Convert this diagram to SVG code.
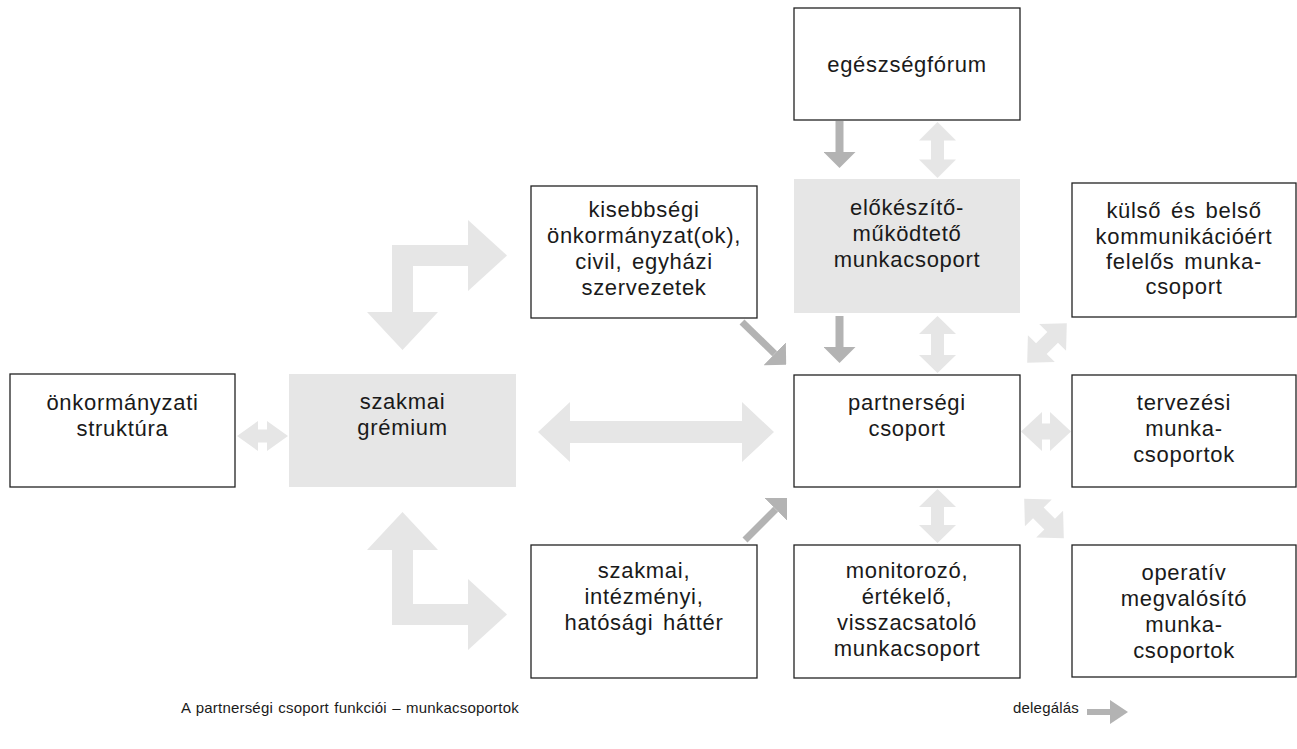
<svg xmlns="http://www.w3.org/2000/svg" width="1297" height="749" viewBox="0 0 1297 749">
<style>
.box{fill:#ffffff;stroke:#222222;stroke-width:1.3}
.gbox{fill:#e6e6e6;stroke:none}
.t{font-family:"Liberation Sans",Arial,sans-serif;font-size:22px;fill:#1a1a1a;text-anchor:middle;letter-spacing:0.7px;word-spacing:3px}
.lg{font-family:"Liberation Sans",Arial,sans-serif;font-size:15px;fill:#1a1a1a;letter-spacing:0.2px;word-spacing:1px}
.la{fill:#e6e6e6;stroke:none}
.da{fill:none;stroke:#b3b3b3;stroke-width:8}
.dh{fill:#b3b3b3;stroke:none}
</style>
<defs>
<marker id="dhead" markerUnits="userSpaceOnUse" viewBox="0 0 16 32" markerWidth="16" markerHeight="32" refX="0" refY="16" orient="auto">
<path d="M0,0 L16,16 L0,32 Z" fill="#b3b3b3"/>
</marker>
<path id="dbl" d="M-28,0 L-8,-19 L-8,-7.5 L8,-7.5 L8,-19 L28,0 L8,19 L8,7.5 L-8,7.5 L-8,19 Z"/>
</defs>
<rect width="1297" height="749" fill="#ffffff"/>

<g id="connectors">
<!-- dark delegation arrows -->
<line class="da" x1="839.5" y1="121" x2="839.5" y2="152" marker-end="url(#dhead)"/>
<line class="da" x1="839.5" y1="316" x2="839.5" y2="347" marker-end="url(#dhead)"/>
<line class="da" style="stroke-width:7" x1="742" y1="322" x2="774.7" y2="353.7" marker-end="url(#dhead)"/>
<line class="da" style="stroke-width:7" x1="745" y1="540" x2="775.7" y2="509.3" marker-end="url(#dhead)"/>
<!-- light double arrows -->
<polygon class="la" points="937.5,122 956,140.5 944,140.5 944,159.5 956,159.5 937.5,178 919,159.5 931,159.5 931,140.5 919,140.5"/>
<polygon class="la" points="937.5,316 956,334 944,334 944,355 956,355 937.5,373 919,355 931,355 931,334 919,334"/>
<polygon class="la" points="937.5,489 956,507 944,507 944,525 956,525 937.5,543 919,525 931,525 931,507 919,507"/>
<polygon class="la" points="237,436 258,421 258,429.5 267,429.5 267,421 288,436 267,451 267,442.5 258,442.5 258,451"/>
<polygon class="la" points="1021,431.5 1042,412 1042,423.5 1050,423.5 1050,412 1071,431.5 1050,451 1050,439.5 1042,439.5 1042,451"/>
<polygon class="la" points="538,432 570,402 570,421 742,421 742,402 774,432 742,462 742,443 570,443 570,462"/>
<use href="#dbl" class="la" transform="translate(1047,343) rotate(-45)"/>
<use href="#dbl" class="la" transform="translate(1044,518.5) rotate(45)"/>
<!-- L-shaped arrows -->
<polygon class="la" points="392,245 468,245 468,220 507,255.5 468,291 468,266 413,266 413,312 438,312 402.5,350 367,312 392,312"/>
<polygon class="la" points="402.5,512 438,550 413,550 413,604 468,604 468,579 507,614.5 468,650 468,625 392,625 392,550 367,550"/>
</g>

<g id="n-egeszsegforum">
<rect class="box" x="794" y="8" width="226" height="112"/>
<text class="t" x="907" y="72">egészségfórum</text>
</g>
<g id="n-elokeszito">
<rect class="gbox" x="794" y="179" width="226" height="134"/>
<text class="t" x="907" y="215">előkészítő-</text>
<text class="t" x="907" y="241">működtető</text>
<text class="t" x="907" y="267">munkacsoport</text>
</g>
<g id="n-kisebbsegi">
<rect class="box" x="531" y="186" width="226" height="132"/>
<text class="t" x="644" y="217">kisebbségi</text>
<text class="t" x="644" y="243">önkormányzat(ok),</text>
<text class="t" x="644" y="269">civil,  egyházi</text>
<text class="t" x="644" y="295">szervezetek</text>
</g>
<g id="n-kulso">
<rect class="box" x="1072" y="183" width="224" height="134"/>
<text class="t" x="1184" y="218">külső  és  belső</text>
<text class="t" x="1184" y="244">kommunikációért</text>
<text class="t" x="1184" y="269">felelős  munka-</text>
<text class="t" x="1184" y="294">csoport</text>
</g>
<g id="n-onkormanyzati">
<rect class="box" x="10" y="374" width="225" height="113"/>
<text class="t" x="122.5" y="410">önkormányzati</text>
<text class="t" x="122.5" y="436">struktúra</text>
</g>
<g id="n-gremium">
<rect class="gbox" x="289" y="374" width="227" height="113"/>
<text class="t" x="402.5" y="409">szakmai</text>
<text class="t" x="402.5" y="435">grémium</text>
</g>
<g id="n-partnersegi">
<rect class="box" x="794" y="375" width="226" height="112"/>
<text class="t" x="907" y="410">partnerségi</text>
<text class="t" x="907" y="436">csoport</text>
</g>
<g id="n-tervezesi">
<rect class="box" x="1072" y="375" width="224" height="112"/>
<text class="t" x="1184" y="410">tervezési</text>
<text class="t" x="1184" y="436">munka-</text>
<text class="t" x="1184" y="462">csoportok</text>
</g>
<g id="n-szakmai-hatter">
<rect class="box" x="531" y="545" width="226" height="133"/>
<text class="t" x="644" y="578">szakmai,</text>
<text class="t" x="644" y="604">intézményi,</text>
<text class="t" x="644" y="630">hatósági  háttér</text>
</g>
<g id="n-monitorozo">
<rect class="box" x="794" y="545" width="226" height="133"/>
<text class="t" x="907" y="578">monitorozó,</text>
<text class="t" x="907" y="604">értékelő,</text>
<text class="t" x="907" y="630">visszacsatoló</text>
<text class="t" x="907" y="656">munkacsoport</text>
</g>
<g id="n-operativ">
<rect class="box" x="1072" y="545" width="224" height="132"/>
<text class="t" x="1184" y="580">operatív</text>
<text class="t" x="1184" y="606">megvalósító</text>
<text class="t" x="1184" y="632">munka-</text>
<text class="t" x="1184" y="658">csoportok</text>
</g>

<g id="legend">
<text class="lg" x="181" y="713">A partnerségi csoport funkciói – munkacsoportok</text>
<text class="lg" x="1079" y="713" text-anchor="end">delegálás</text>
<polygon class="dh" points="1087,709 1110,709 1110,700 1128,712 1110,724 1110,715 1087,715"/>
</g>
</svg>
